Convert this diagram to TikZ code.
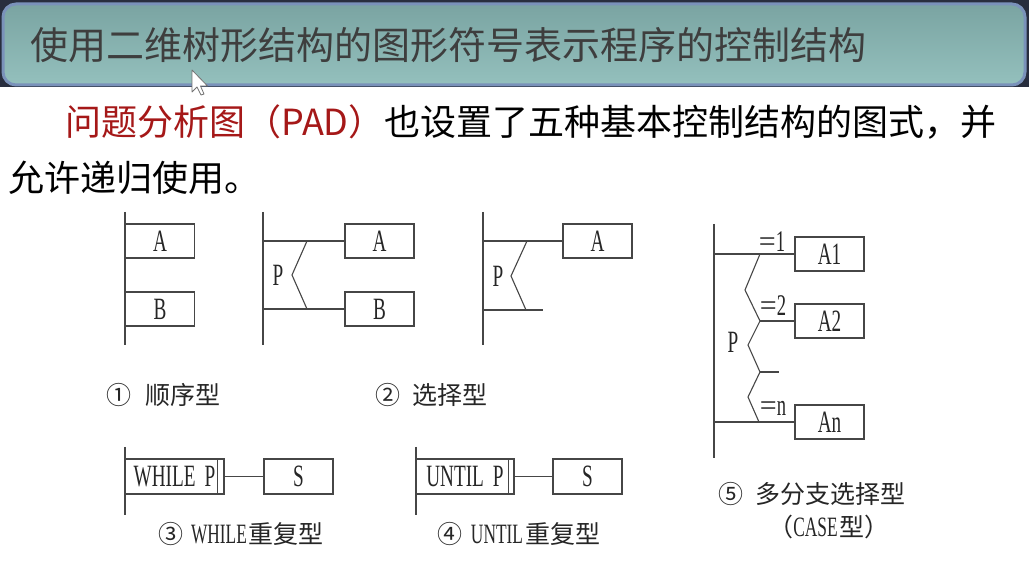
\documentclass[tikz,border=0pt]{standalone}
\usepackage{fontspec}
\newfontfamily\cjk{Noto Sans CJK SC}
\newfontfamily\condserif[FakeStretch=0.62]{Liberation Serif}
\newfontfamily\plainserif{Liberation Serif}
\definecolor{deskdark}{RGB}{40,46,62}
\definecolor{bartop}{RGB}{122,164,162}
\definecolor{barbottom}{RGB}{148,192,189}
\definecolor{barrim}{RGB}{122,146,186}
\definecolor{titlegray}{RGB}{62,62,62}
\definecolor{padred}{RGB}{165,24,24}
\definecolor{inkline}{RGB}{70,70,70}
\begin{document}
\begin{tikzpicture}[x=1pt,y=-1pt,
  ln/.style={line width=1.1pt, draw=inkline},
  blk/.style={ln, rectangle, inner sep=0pt, minimum width=69pt, minimum height=34pt,
    font=\condserif\fontsize{31}{31}\selectfont, text=black!85},
  loopbox/.style={ln, rectangle, inner sep=0pt, minimum height=35pt,
    font=\condserif\fontsize{31}{31}\selectfont, text=black!85},
  plbl/.style={inner sep=0pt, font=\condserif\fontsize{31}{31}\selectfont, text=black!85},
  eqlbl/.style={inner sep=0pt, font=\condserif\fontsize{30}{30}\selectfont, text=black!85},
  captext/.style={inner sep=0pt, font=\cjk\fontsize{25}{25}\selectfont, text=black!85}
]
\useasboundingbox (0,0) rectangle (1029,561);
% page and title bar
\fill[white] (0,0) rectangle (1029,561);
\fill[deskdark] (0,0) rectangle (1029,87);
\path[top color=bartop, bottom color=barbottom, draw=barrim, line width=3pt,
  rounded corners=13pt] (3,4) rectangle (1025,85);
\node[anchor=west, inner sep=0pt, text=titlegray, font=\cjk\fontsize{38}{38}\selectfont]
  (title) at (30,45) {使用二维树形结构的图形符号表示程序的控制结构};

% mouse pointer
\filldraw[fill=white, draw=black!55, line width=0.8pt, line join=round]
  (192,70) -- (192,92) -- (197,87) -- (201,95) -- (204,94) -- (200.5,86) -- (207.5,86) -- cycle;

% introduction
\node[anchor=west, inner sep=0pt, font=\cjk\fontsize{36}{36}\selectfont, text=black]
  (intro1) at (65,122) {\textcolor{padred}{问题分析图（PAD）}也设置了五种基本控制结构的图式，并};
\node[anchor=west, inner sep=0pt, font=\cjk\fontsize{36}{36}\selectfont, text=black]
  (intro2) at (8,178) {允许递归使用。};

% (1) sequence
\coordinate (s1t) at (125,212);
\coordinate (s1b) at (125,345);
\draw[ln] (s1t) -- (s1b);
\node[blk] (s1a) at (160,241) {A};
\node[blk] (s1bb) at (160,309) {B};
\node[captext] (cap1) at (163,395) {①\hspace{14pt}顺序型};

% (2) selection, two branches
\coordinate (s2t) at (263,212);
\coordinate (s2b) at (263,345);
\draw[ln] (s2t) -- (s2b);
\node[blk] (s2a) at (379.5,241) {A};
\node[blk] (s2bb) at (379.5,309) {B};
\coordinate (s2u) at (263,241);
\coordinate (s2l) at (263,309);
\draw[ln] (s2u) -- (s2a.west);
\draw[ln] (s2l) -- (s2bb.west);
\coordinate (z2a) at (307,241);
\coordinate (z2b) at (292,275);
\coordinate (z2c) at (307,309);
\draw[ln] (z2a) -- (z2b) -- (z2c);
\node[plbl] (p2) at (278,275) {P};

% (2) selection, one branch
\coordinate (s3t) at (483,212);
\coordinate (s3b) at (483,345);
\draw[ln] (s3t) -- (s3b);
\node[blk] (s3a) at (597.5,241) {A};
\coordinate (s3u) at (483,241);
\coordinate (s3l) at (483,310);
\coordinate (s3e) at (543,310);
\draw[ln] (s3u) -- (s3a.west);
\draw[ln] (s3l) -- (s3e);
\coordinate (z3a) at (527,241);
\coordinate (z3b) at (511,276);
\coordinate (z3c) at (526,310);
\draw[ln] (z3a) -- (z3b) -- (z3c);
\node[plbl] (p3) at (498,276) {P};
\node[captext] (cap2) at (431,395) {②\hspace{12pt}选择型};

% (5) case
\coordinate (s5t) at (714,224);
\coordinate (s5b) at (714,458);
\draw[ln] (s5t) -- (s5b);
\node[blk] (c1) at (829.5,254) {A1};
\node[blk] (c2) at (829.5,321) {A2};
\node[blk] (cn) at (829.5,422) {An};
\coordinate (s5u) at (714,254);
\coordinate (s5m) at (760,321);
\coordinate (s5d) at (760,372);
\coordinate (s5de) at (779,372);
\coordinate (s5l) at (714,422);
\draw[ln] (s5u) -- (c1.west);
\draw[ln] (s5m) -- (c2.west);
\draw[ln] (s5d) -- (s5de);
\draw[ln] (s5l) -- (cn.west);
\draw[ln] (760,254) -- (745,290) -- (s5m) -- (748,345) -- (s5d) -- (748,397) -- (759,422);
\node[plbl] (p5) at (733,342) {P};
\node[eqlbl] (e1) at (772,242) {{\plainserif\fontsize{30}{30}\selectfont=}1};
\node[eqlbl] (e2) at (773,306) {{\plainserif\fontsize{30}{30}\selectfont=}2};
\node[eqlbl] (en) at (773,408) {{\plainserif\fontsize{30}{30}\selectfont=}n};
\node[captext] (cap5) at (812,494) {⑤\hspace{12pt}多分支选择型};
\node[captext] (cap5b) at (829,527) {（{\condserif\fontsize{28}{28}\selectfont CASE}\hspace{2pt}型）};

% (3) while loop
\coordinate (s4t) at (125,447);
\coordinate (s4b) at (125,515);
\draw[ln] (s4t) -- (s4b);
\node[loopbox, minimum width=99pt] (wh) at (174.5,476.5) {WHILE\hspace{9pt}P\hspace{7pt}};
\draw[ln] ([xshift=-7pt]wh.north east) -- ([xshift=-7pt]wh.south east);
\node[blk, minimum height=35pt] (whs) at (298.5,476.5) {S};
\draw[ln] (wh.east) -- (whs.west);
\node[captext] (cap3) at (241,534) {③\hspace{8pt}{\condserif\fontsize{28}{28}\selectfont WHILE}\hspace{2pt}重复型};

% (4) until loop
\coordinate (s6t) at (416,447);
\coordinate (s6b) at (416,515);
\draw[ln] (s6t) -- (s6b);
\node[loopbox, minimum width=98pt] (un) at (465,476.5) {UNTIL\hspace{9pt}P\hspace{6pt}};
\draw[ln] ([xshift=-6pt]un.north east) -- ([xshift=-6pt]un.south east);
\node[blk, minimum height=35pt] (uns) at (587.5,476.5) {S};
\draw[ln] (un.east) -- (uns.west);
\node[captext] (cap4) at (519,534) {④\hspace{8pt}{\condserif\fontsize{28}{28}\selectfont UNTIL}\hspace{2pt}重复型};
\end{tikzpicture}
\end{document}
